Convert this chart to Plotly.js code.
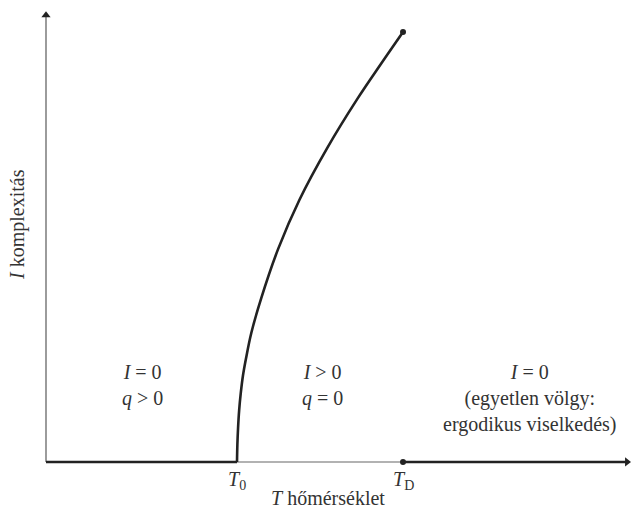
<!DOCTYPE html>
<html>
<head>
<meta charset="utf-8">
<script src="https://cdn.plot.ly/plotly-3.0.1.min.js"></script>
<style>html,body{margin:0;padding:0;background:#fff;}#chart{width:631px;height:511px;}</style>
</head>
<body>
<div id="chart"></div>
<script>
// Critical temperatures (arbitrary units) and the complexity branch I(T)
const T0 = 1.07;
const TD = 2.0;
const curveT = [1.070, 1.072, 1.076, 1.082, 1.091, 1.103, 1.120, 1.150, 1.205, 1.300, 1.420, 1.575, 1.745, 1.875, 2.0];
const curveI = [0.000, 0.040, 0.080, 0.120, 0.160, 0.200, 0.240, 0.300, 0.380, 0.495, 0.610, 0.730, 0.845, 0.925, 1.0];

// Axis extent
const xMax = 3.27;
const yMax = 1.049;

// Region descriptions
const regionX = [0.54, 1.55, 2.71];
const regionText = [
  '<i>I</i> = 0<br><i>q</i> > 0',
  '<i>I</i> > 0<br><i>q</i> = 0',
  '<i>I</i> = 0<br>(egyetlen völgy:<br>ergodikus viselkedés)'
];
const tickT = [T0, TD];
const tickText = ['<i>T</i><sub>0</sub>', '<i>T</i><sub>D</sub>'];
const xTitle = '<i>T</i> hőmérséklet';
const yTitle = '<i>I</i> komplexitás';

const ink = '#222';
const axisInk = '#666';
const serif = 'Liberation Serif, DejaVu Serif, serif';
const textFont = {family: serif, size: 20, color: '#333'};

const traces = [
  // thin axes
  {x: [0, xMax - 0.02], y: [0, 0], mode: 'lines', line: {color: axisInk, width: 1.2}},
  {x: [0, 0], y: [0, yMax - 0.01], mode: 'lines', line: {color: axisInk, width: 1.3}},
  // I = 0 branches
  {x: [0, T0], y: [0, 0], mode: 'lines', line: {color: ink, width: 2.6}},
  {x: [TD, xMax - 0.02], y: [0, 0], mode: 'lines', line: {color: ink, width: 2.6}},
  // complexity curve
  {x: curveT, y: curveI, mode: 'lines', line: {color: ink, width: 2.6, shape: 'spline', smoothing: 1.0}},
  // end points
  {x: [TD, TD], y: [curveI[curveI.length - 1], 0], mode: 'markers', marker: {color: ink, size: 6}},
  // arrow heads
  {x: [xMax - 0.015], y: [0], mode: 'markers', marker: {symbol: 'triangle-right', color: ink, size: 8}},
  {x: [0], y: [yMax - 0.01], mode: 'markers', marker: {symbol: 'triangle-up', color: ink, size: 8}}
];

const annotations = [];
regionX.forEach((x, i) => {
  annotations.push({x: x, y: 0.24, yanchor: 'top', xanchor: 'center', text: regionText[i], showarrow: false,
    font: textFont, align: 'center'});
});
tickT.forEach((t, i) => {
  annotations.push({x: t, y: -0.01, yanchor: 'top', xanchor: 'center', text: tickText[i], showarrow: false,
    font: textFont});
});
annotations.push({xref: 'paper', yref: 'paper', x: 0.496, y: -0.008, yanchor: 'top', xanchor: 'center',
  text: xTitle, showarrow: false, font: textFont});
annotations.push({xref: 'paper', yref: 'paper', x: -0.02, y: 0.54, xanchor: 'center', yanchor: 'middle',
  textangle: -90, text: yTitle, showarrow: false, font: textFont});

const layout = {
  width: 631, height: 511,
  margin: {l: 30, r: 0, t: 5, b: 30},
  paper_bgcolor: '#fff', plot_bgcolor: '#fff',
  showlegend: false,
  xaxis: {range: [-0.0896, 3.277], visible: false, fixedrange: true},
  yaxis: {range: [-0.0442, 1.0628], visible: false, fixedrange: true},
  annotations: annotations
};

Plotly.newPlot('chart', traces, layout, {displayModeBar: false, staticPlot: true});
</script>
</body>
</html>
